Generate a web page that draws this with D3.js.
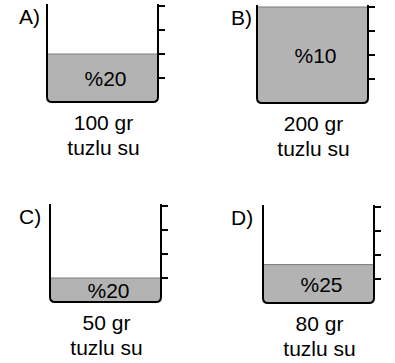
<!DOCTYPE html>
<html>
  <head>
    <meta charset="utf-8">
    <title>Tuzlu su kaplari</title>
    <style>
      body { margin: 0; background: #fff; }
      text { font-family: "Liberation Sans", Arial, sans-serif; fill: #000; }
    </style>
  </head>
  <body>
    <div id="container"></div>
    <script src="https://d3js.org/d3.v7.min.js"></script>
    <script>

      // DATA
      var options = ["A)", "B)", "C)", "D)"];
      var masses = [100, 200, 50, 80];          // gr tuzlu su
      var percents = [20, 10, 20, 25];          // tuz yuzdesi
      var tickValues = [50, 100, 150, 200];     // kap uzerindeki cizgiler

      // LAYOUT
      var width = 395, height = 363;
      var beakerLeft = [47, 257, 50, 263];
      var beakerBottom = [102, 103, 302, 303];
      var letterX = [19, 231, 19, 231];
      var beakerW = 111, radius = 5, tickLen = 7;
      var fs = 21;

      var svg = d3.select("#container")
        .append("svg")
        .attr("width", width)
        .attr("height", height);

      // mass -> height of liquid inside the beaker
      var h = d3.scaleLinear()
        .domain([0, 200])
        .range([0, 96]);
      var wallTop = h(204);

      var panels = svg.selectAll("g.panel")
        .data(options.map((o, i) => ({
          label: o, mass: masses[i], pct: percents[i],
          x: beakerLeft[i], y: beakerBottom[i], lx: letterX[i]
        })))
        .enter()
        .append("g")
        .attr("class", "panel");

      // liquid
      panels.append("path")
        .attr("fill", "#b3b3b3")
        .attr("d", d => {
          var top = d.y - h(d.mass);
          return "M" + d.x + "," + top +
            "V" + (d.y - radius) +
            "Q" + d.x + "," + d.y + " " + (d.x + radius) + "," + d.y +
            "H" + (d.x + beakerW - radius) +
            "Q" + (d.x + beakerW) + "," + d.y + " " + (d.x + beakerW) + "," + (d.y - radius) +
            "V" + top + "Z";
        });

      // liquid surface
      panels.append("line")
        .attr("x1", d => d.x)
        .attr("x2", d => d.x + beakerW)
        .attr("y1", d => d.y - h(d.mass))
        .attr("y2", d => d.y - h(d.mass))
        .attr("stroke", "#7a7a7a")
        .attr("stroke-width", 1);

      // beaker walls
      panels.append("path")
        .attr("fill", "none")
        .attr("stroke", "#000")
        .attr("stroke-width", 2)
        .attr("d", d => {
          var top = d.y - wallTop;
          return "M" + d.x + "," + top +
            "V" + (d.y - radius) +
            "Q" + d.x + "," + d.y + " " + (d.x + radius) + "," + d.y +
            "H" + (d.x + beakerW - radius) +
            "Q" + (d.x + beakerW) + "," + d.y + " " + (d.x + beakerW) + "," + (d.y - radius) +
            "V" + top;
        });

      // scale ticks on the right wall
      panels.each(function (d) {
        d3.select(this).selectAll("line.tick")
          .data(tickValues)
          .enter()
          .append("line")
          .attr("class", "tick")
          .attr("x1", d.x + beakerW)
          .attr("x2", d.x + beakerW + tickLen)
          .attr("y1", v => d.y - h(v))
          .attr("y2", v => d.y - h(v))
          .attr("stroke", "#000")
          .attr("stroke-width", 2);
      });

      // option letters
      panels.append("text")
        .attr("x", d => d.lx)
        .attr("y", d => d.y - 78)
        .attr("font-size", fs)
        .text(d => d.label);

      // percentage inside liquid
      panels.append("text")
        .attr("x", d => d.x + beakerW / 2 + 3)
        .attr("y", d => d.y - h(d.mass) / 2 + 8)
        .attr("text-anchor", "middle")
        .attr("font-size", fs)
        .text(d => "%" + d.pct);

      // mass labels
      panels.append("text")
        .attr("x", d => d.x + beakerW / 2 + 1)
        .attr("y", d => d.y + 28)
        .attr("text-anchor", "middle")
        .attr("font-size", fs)
        .text(d => d.mass + " gr");

      panels.append("text")
        .attr("x", d => d.x + beakerW / 2 + 1)
        .attr("y", d => d.y + 53)
        .attr("text-anchor", "middle")
        .attr("font-size", fs)
        .text("tuzlu su");

    </script>
  </body>
</html>
